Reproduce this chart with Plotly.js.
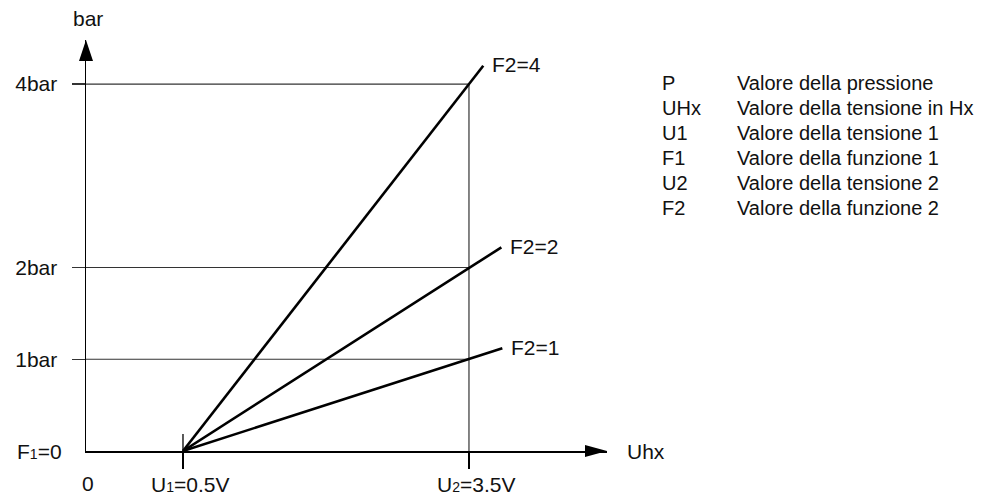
<!DOCTYPE html>
<html><head><meta charset="utf-8">
<script src="https://cdn.plot.ly/plotly-3.0.1.min.js"></script>
<style>html,body{margin:0;padding:0;background:#fff}#chart{width:987px;height:497px}</style>
</head><body><div id="chart"></div>
<script>
// ---- data ----
const u1 = 0.5;            // V
const u2 = 3.5;            // V
const voltageTicks = [0.5, 3.5];
const voltageLabels = ['U<span style="font-size:14px">1</span>=0.5V', 'U<span style="font-size:14px">2</span>=3.5V'];
const pressureLevels = [1, 2, 4];
const pressureLabels = ['1bar', '2bar', '4bar'];
const curveNames = ['F2=4', 'F2=2', 'F2=1'];
const curveF4U = [0.5, 3.65];
const curveF4P = [0, 4.2];
const curveF2U = [0.5, 3.84];
const curveF2P = [0, 2.22];
const curveF1U = [0.5, 3.85];
const curveF1P = [0, 1.12];
const legendSymbols = ['P', 'UHx', 'U1', 'F1', 'U2', 'F2'];
const legendDescriptions = ['Valore della pressione', 'Valore della tensione in Hx', 'Valore della tensione 1',
  'Valore della funzione 1', 'Valore della tensione 2', 'Valore della funzione 2'];

// ---- layout constants ----
const FONT = 'Liberation Sans, Arial, Helvetica, sans-serif';
const xStart = -0.5175, xEnd = 4.948, yEnd = 4.48;
const plotW = 521, plotH = 411;
const sub = s => '<span style="font-size:14px">' + s + '</span>';
const txt = {family: FONT, size: 21, color: '#111'};

const traces = [];
pressureLevels.forEach(p => traces.push({x: [xStart, u2], y: [p, p], mode: 'lines',
  line: {color: '#333', width: 1.2}, hoverinfo: 'skip', showlegend: false}));
traces.push({x: [u2, u2], y: [0, Math.max(...pressureLevels)], mode: 'lines',
  line: {color: '#333', width: 1.2}, hoverinfo: 'skip', showlegend: false});
const curves = [[curveF4U, curveF4P], [curveF2U, curveF2P], [curveF1U, curveF1P]];
curves.forEach((c, i) => traces.push({x: c[0], y: c[1], mode: 'lines', name: curveNames[i],
  line: {color: '#000', width: 2.6}, showlegend: false}));

const annotations = [];
curves.forEach((c, i) => annotations.push({x: c[0][1], y: c[1][1], xref: 'x', yref: 'y', text: curveNames[i],
  showarrow: false, xanchor: 'left', yanchor: 'middle', xshift: 7, yshift: 1, font: txt}));
voltageTicks.forEach((v, i) => annotations.push({x: v, y: 0, xref: 'x', yref: 'paper', text: voltageLabels[i],
  showarrow: false, xanchor: 'center', yanchor: 'middle', xshift: 7, yshift: -33, font: txt}));
annotations.push({x: 0, y: 0, xref: 'paper', yref: 'y', text: 'F' + sub('1') + '=0', showarrow: false,
  xanchor: 'right', yanchor: 'middle', xshift: -22, font: txt});
annotations.push({x: 0, y: 0, xref: 'paper', yref: 'paper', text: '0', showarrow: false,
  xanchor: 'center', yanchor: 'middle', xshift: 2, yshift: -32, font: txt});
annotations.push({x: 0, y: 1, xref: 'paper', yref: 'paper', text: 'bar', showarrow: false,
  xanchor: 'center', yanchor: 'bottom', xshift: 2, yshift: 8, font: txt});
annotations.push({x: 1, y: 0, xref: 'paper', yref: 'y', text: 'Uhx', showarrow: false,
  xanchor: 'left', yanchor: 'middle', xshift: 18, font: txt});
legendSymbols.forEach((s, i) => {
  const py = (451 - (83 + 25 * i)) / plotH;
  annotations.push({x: (660 - 86) / plotW, y: py, xref: 'paper', yref: 'paper', text: s, showarrow: false,
    xanchor: 'left', yanchor: 'middle', font: {family: FONT, size: 20, color: '#111'}});
  annotations.push({x: (735 - 86) / plotW, y: py, xref: 'paper', yref: 'paper', text: legendDescriptions[i], showarrow: false,
    xanchor: 'left', yanchor: 'middle', font: {family: FONT, size: 20, color: '#111'}});
});

const xa = 22 / plotW, xw = 6 / plotH, ya = 21 / plotH, yw = 7 / plotW;
const shapes = [
  {type: 'path', xref: 'paper', yref: 'paper', path: `M1,0 L${1 - xa},${xw} L${1 - xa},${-xw} Z`,
    fillcolor: '#000', line: {width: 0}},
  {type: 'path', xref: 'paper', yref: 'paper', path: `M0,1 L${-yw},${1 - ya} L${yw},${1 - ya} Z`,
    fillcolor: '#000', line: {width: 0}},
  {type: 'line', xref: 'x', yref: 'paper', x0: u1, x1: u1, y0: 0, y1: 17 / plotH, line: {color: '#000', width: 1.3}}
];

const layout = {
  width: 987, height: 497,
  margin: {l: 86, r: 380, t: 40, b: 46},
  paper_bgcolor: '#fff', plot_bgcolor: '#fff',
  showlegend: false,
  xaxis: {range: [xStart, xEnd], showline: true, linecolor: '#000', linewidth: 1.5, showgrid: false, zeroline: false,
    tickmode: 'array', tickvals: voltageTicks, showticklabels: false,
    ticks: 'outside', ticklen: 16, tickwidth: 1.3, tickcolor: '#000', fixedrange: true},
  yaxis: {range: [0, yEnd], showline: true, linecolor: '#000', linewidth: 1.5, showgrid: false, zeroline: false,
    tickmode: 'array', tickvals: pressureLevels, ticktext: pressureLabels,
    ticks: 'outside', ticklen: 13, tickwidth: 1.2, tickcolor: '#333', ticklabelstandoff: 10,
    tickfont: txt, fixedrange: true},
  annotations: annotations,
  shapes: shapes
};
Plotly.newPlot('chart', traces, layout, {displayModeBar: false, staticPlot: true});
</script>
</body></html>
